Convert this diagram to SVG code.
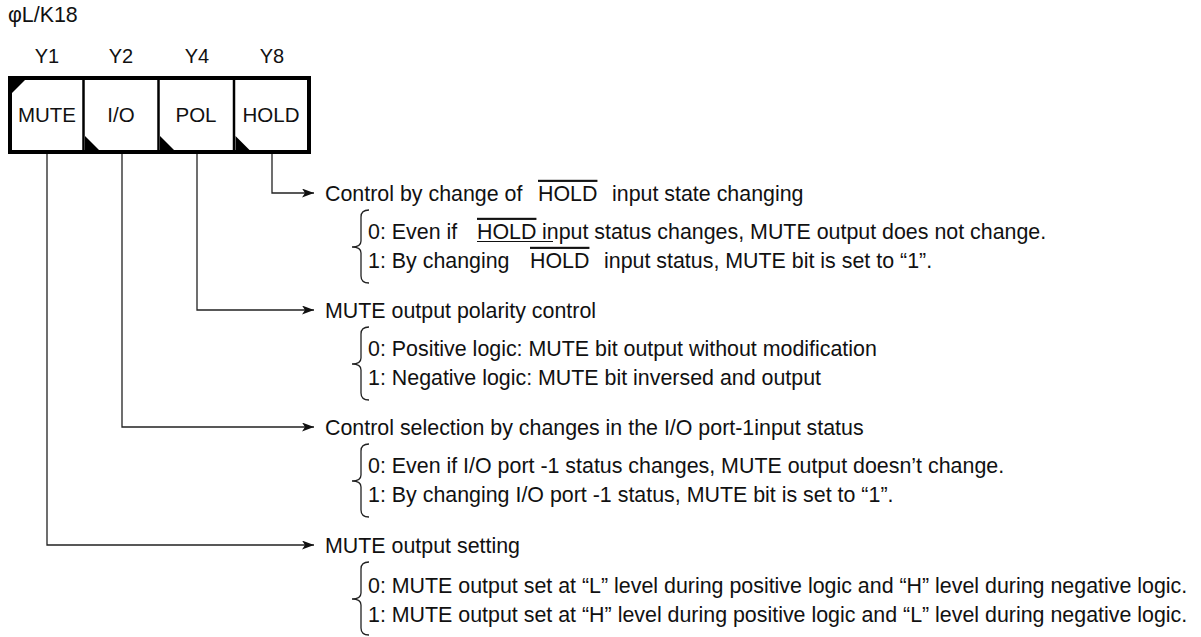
<svg xmlns="http://www.w3.org/2000/svg" width="1201" height="637" viewBox="0 0 1201 637">
<style>
text{font-family:"Liberation Sans",Arial,sans-serif;font-size:21.4px;fill:#111;}
.lbl{text-anchor:middle;font-size:20px;}
.cell{text-anchor:middle;font-size:20.5px;}
.ol{text-decoration:overline;}
.arr{fill:none;stroke:#222;stroke-width:1.3;marker-end:url(#ah);}
.brace{fill:none;stroke:#222;stroke-width:1.3;}
.tri{fill:#000;}
</style>
<defs>
<marker id="ah" markerUnits="userSpaceOnUse" viewBox="0 0 12 9" refX="12" refY="4.5" markerWidth="12" markerHeight="9" orient="auto">
<path d="M0,0 L12,4.5 L0,9 L3,4.5 z" fill="#111"/>
</marker>
</defs>

<g id="title"><text x="8" y="22">φL/K18</text></g>

<g id="register">
<rect x="10" y="78" width="299" height="74" fill="#fff" stroke="#000" stroke-width="4"/>
<line x1="83.5" y1="78" x2="83.5" y2="152" stroke="#000" stroke-width="2.5"/>
<line x1="158.5" y1="78" x2="158.5" y2="152" stroke="#000" stroke-width="2.5"/>
<line x1="234" y1="78" x2="234" y2="152" stroke="#000" stroke-width="2.5"/>
</g>

<g id="bit-y1">
<text class="lbl" x="47" y="63">Y1</text>
<path class="tri" d="M12,80 L25,80 L12,93 z"/>
<text class="cell" x="47" y="122">MUTE</text>
</g>
<g id="bit-y2">
<text class="lbl" x="121" y="63">Y2</text>
<path class="tri" d="M85,136 L85,150 L99,150 z"/>
<text class="cell" x="121" y="122">I/O</text>
</g>
<g id="bit-y4">
<text class="lbl" x="197" y="63">Y4</text>
<path class="tri" d="M160,136 L160,150 L174,150 z"/>
<text class="cell" x="196" y="122">POL</text>
</g>
<g id="bit-y8">
<text class="lbl" x="272" y="63">Y8</text>
<path class="tri" d="M235.5,136 L235.5,150 L249.5,150 z"/>
<text class="cell" x="271" y="122">HOLD</text>
</g>

<g id="connectors">
<path class="arr" d="M272,154 V193 H314"/>
<path class="arr" d="M197,154 V310 H314"/>
<path class="arr" d="M122,154 V427 H314"/>
<path class="arr" d="M47,154 V545 H314"/>
</g>

<g id="desc-hold">
<text y="200.8"><tspan x="325">Control by change of</tspan><tspan x="538" class="ol">HOLD</tspan><tspan x="612">input state changing</tspan></text>
<path class="brace" d="M369,210 Q361,210 361,217 V241 Q361,247 352,247 Q361,247 361,253 V276 Q361,283 369,283"/>
<text y="238.8"><tspan x="368">0: Even if</tspan><tspan x="477" class="ol">HOLD</tspan><tspan x="542">input status changes, MUTE output does not change.</tspan></text>
<line x1="477" y1="241.5" x2="553" y2="241.5" stroke="#111" stroke-width="1.2"/>
<text y="267.8"><tspan x="368">1: By changing</tspan><tspan x="530" class="ol">HOLD</tspan><tspan x="604">input status, MUTE bit is set to “1”.</tspan></text>
</g>

<g id="desc-pol">
<text x="325" y="317.8">MUTE output polarity control</text>
<path class="brace" d="M369,327 Q361,327 361,334 V358 Q361,364 352,364 Q361,364 361,370 V393 Q361,400 369,400"/>
<text x="368" y="355.8">0: Positive logic: MUTE bit output without modification</text>
<text x="368" y="384.8">1: Negative logic: MUTE bit inversed and output</text>
</g>

<g id="desc-io">
<text x="325" y="434.8">Control selection by changes in the I/O port-1input status</text>
<path class="brace" d="M369,444 Q361,444 361,451 V475 Q361,481 352,481 Q361,481 361,487 V510 Q361,517 369,517"/>
<text x="368" y="472.8">0: Even if I/O port -1 status changes, MUTE output doesn’t change.</text>
<text x="368" y="501.8">1: By changing I/O port -1 status, MUTE bit is set to “1”.</text>
</g>

<g id="desc-mute">
<text x="325" y="552.8">MUTE output setting</text>
<path class="brace" d="M369,562 Q361,562 361,569 V593 Q361,599 352,599 Q361,599 361,605 V628 Q361,635 369,635"/>
<text x="368" y="592.8">0: MUTE output set at “L” level during positive logic and “H” level during negative logic.</text>
<text x="368" y="621.8">1: MUTE output set at “H” level during positive logic and “L” level during negative logic.</text>
</g>
</svg>
